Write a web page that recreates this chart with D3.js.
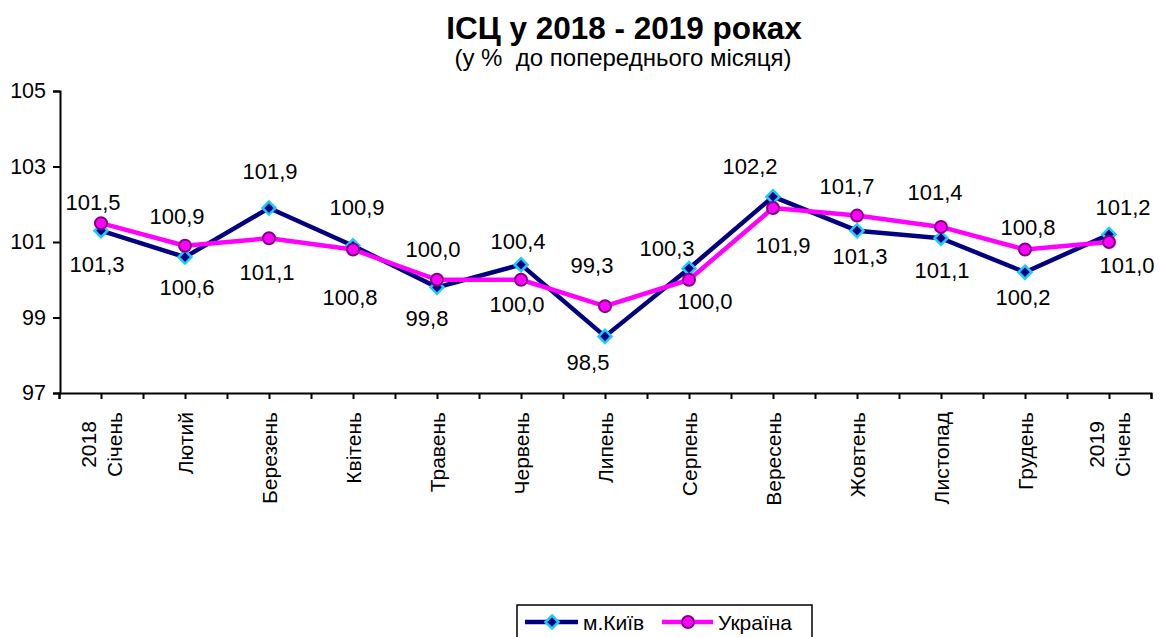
<!DOCTYPE html>
<html>
<head>
<meta charset="utf-8">
<script src="https://cdn.jsdelivr.net/npm/d3@7"></script>
<style>
  html, body { margin: 0; padding: 0; background: #fff; }
  svg { display: block; font-family: Arial, "Liberation Sans", sans-serif; }
</style>
</head>
<body>
<svg id="chart" width="1160" height="637"></svg>
<script>
// ---- data ----
const categories = [
  ["2018", "Січень"], ["Лютий"], ["Березень"], ["Квітень"], ["Травень"], ["Червень"],
  ["Липень"], ["Серпень"], ["Вересень"], ["Жовтень"], ["Листопад"], ["Грудень"], ["2019", "Січень"]
];
const kyivValues    = [101.3, 100.6, 101.9, 100.9, 99.8, 100.4, 98.5, 100.3, 102.2, 101.3, 101.1, 100.2, 101.2];
const ukraineValues = [101.5, 100.9, 101.1, 100.8, 100.0, 100.0, 99.3, 100.0, 101.9, 101.7, 101.4, 100.8, 101.0];
const yTicks = [97, 99, 101, 103, 105];
const seriesNames = ["м.Київ", "Україна"];
const titleText = "ІСЦ у 2018 - 2019 роках";
const subtitleText = "(у %  до попереднього місяця)";

// label nudges (layout only): [dx, dy] from the point to label centre
const kyivLabelNudge = [[-4,34],[2,30],[1,-37],[4,-38],[-10,31],[-3,-23],[-17,26],[-22,-20],[-23,-30],[3,26],[1,32],[-2,25],[14,-27]];
const ukraineLabelNudge = [[-8,-21],[-8,-29],[-2,34],[-3,48],[-4,-30],[-4,25],[-13,-41],[16,22],[10,37],[-10,-29],[-6,-34],[3,-22],[18,23]];

// ---- layout ----
const svg = d3.select("#chart");
const plotLeft = 59, plotRight = 1151, plotTop = 91, plotBottom = 393;
const idx = categories.map((d, i) => i);
const x = d3.scaleBand().domain(idx).range([plotLeft, plotRight]);
const cx = i => x(i) + x.bandwidth() / 2;
const y = d3.scaleLinear().domain([97, 105]).range([plotBottom, plotTop]);
const fmt = v => d3.format(".1f")(v).replace(".", ",");

// title
svg.append("text").attr("x", 624).attr("y", 39).attr("text-anchor", "middle")
  .attr("font-size", 31.5).attr("font-weight", "bold").text(titleText);
svg.append("text").attr("x", 623).attr("y", 66).attr("text-anchor", "middle")
  .style("white-space", "pre").attr("xml:space", "preserve")
  .attr("font-size", 24).text(subtitleText);

// y axis
const yAxis = d3.axisLeft(y).tickValues(yTicks).tickSize(7).tickPadding(7).tickFormat(d3.format("d"));
const gy = svg.append("g").attr("transform", `translate(${plotLeft + 1},0)`).call(yAxis);
gy.attr("font-family", null).attr("font-size", null);
gy.select(".domain").attr("stroke", "#000").attr("stroke-width", 2);
gy.selectAll(".tick line").attr("stroke", "#000").attr("stroke-width", 2);
gy.selectAll(".tick text").attr("font-size", 21.5).attr("fill", "#000");

// x axis: ticks at category centres and boundaries
const halfTicks = [];
for (let i = 0; i <= categories.length; i++) halfTicks.push(x(0) + i * x.bandwidth());
for (let i = 0; i < categories.length; i++) halfTicks.push(cx(i));
const xLin = d3.scaleLinear().domain([plotLeft, plotRight]).range([plotLeft, plotRight]);
const gx = svg.append("g").attr("transform", `translate(0,${plotBottom})`)
  .call(d3.axisBottom(xLin).tickValues(halfTicks).tickSize(6).tickFormat(""));
gx.select(".domain").attr("stroke", "#000").attr("stroke-width", 2);
gx.selectAll(".tick line").attr("stroke", "#000").attr("stroke-width", 2);

// x tick labels, rotated
const labelTop = 412;
const lineGap = 26;
categories.forEach((lines, i) => {
  const g = svg.append("g");
  const texts = lines.map((ln, j) => {
    const off = (j - (lines.length - 1) / 2) * lineGap;
    return g.append("text").attr("font-size", 21).attr("text-anchor", "middle")
      .attr("dominant-baseline", "central").text(ln).datum(off);
  });
  const maxLen = d3.max(texts, t => t.node().getComputedTextLength());
  texts.forEach(t => {
    const off = t.datum();
    const px = cx(i) + off, py = labelTop + maxLen / 2;
    t.attr("transform", `translate(${px},${py}) rotate(-90)`);
  });
});

// lines
const line = d3.line().x((d, i) => cx(i)).y(d => y(d));
svg.append("path").datum(kyivValues).attr("d", line)
  .attr("fill", "none").attr("stroke", "#000080").attr("stroke-width", 4.5).attr("stroke-linejoin", "round");
const diamond = (s) => `M0,${-s}L${s},0L0,${s}L${-s},0Z`;
svg.append("g").selectAll("path").data(kyivValues).join("path")
  .attr("d", diamond(6.5)).attr("transform", (d, i) => `translate(${cx(i)},${y(d)})`)
  .attr("fill", "#000080").attr("stroke", "#1ECBF6").attr("stroke-width", 2.5);

svg.append("path").datum(ukraineValues).attr("d", line)
  .attr("fill", "none").attr("stroke", "#FF00FF").attr("stroke-width", 4.5).attr("stroke-linejoin", "round");
svg.append("g").selectAll("circle").data(ukraineValues).join("circle")
  .attr("cx", (d, i) => cx(i)).attr("cy", d => y(d)).attr("r", 6)
  .attr("fill", "#FF00FF").attr("stroke", "#800080").attr("stroke-width", 2);

// data labels
function addLabels(values, nudges) {
  svg.append("g").selectAll("text").data(values).join("text")
    .attr("x", (d, i) => cx(i) + nudges[i][0])
    .attr("y", (d, i) => y(d) + nudges[i][1])
    .attr("text-anchor", "middle").attr("dominant-baseline", "central")
    .attr("font-size", 22).attr("fill", "#000").text(d => fmt(d));
}
addLabels(kyivValues, kyivLabelNudge);
addLabels(ukraineValues, ukraineLabelNudge);

// legend
const lg = svg.append("g");
lg.append("rect").attr("x", 517).attr("y", 605).attr("width", 295).attr("height", 34)
  .attr("fill", "#fff").attr("stroke", "#000").attr("stroke-width", 1.5);
const ly = 622;
lg.append("line").attr("x1", 525).attr("x2", 578).attr("y1", ly).attr("y2", ly)
  .attr("stroke", "#000080").attr("stroke-width", 4.5);
lg.append("path").attr("d", diamond(6.5)).attr("transform", `translate(552,${ly})`)
  .attr("fill", "#000080").attr("stroke", "#1ECBF6").attr("stroke-width", 2.5);
lg.append("text").attr("x", 583).attr("y", ly).attr("dominant-baseline", "central")
  .attr("font-size", 21).text(seriesNames[0]);
lg.append("line").attr("x1", 662).attr("x2", 713).attr("y1", ly).attr("y2", ly)
  .attr("stroke", "#FF00FF").attr("stroke-width", 4.5);
lg.append("circle").attr("cx", 688).attr("cy", ly).attr("r", 6)
  .attr("fill", "#FF00FF").attr("stroke", "#800080").attr("stroke-width", 2);
lg.append("text").attr("x", 718).attr("y", ly).attr("dominant-baseline", "central")
  .attr("font-size", 21).text(seriesNames[1]);
</script>
</body>
</html>
